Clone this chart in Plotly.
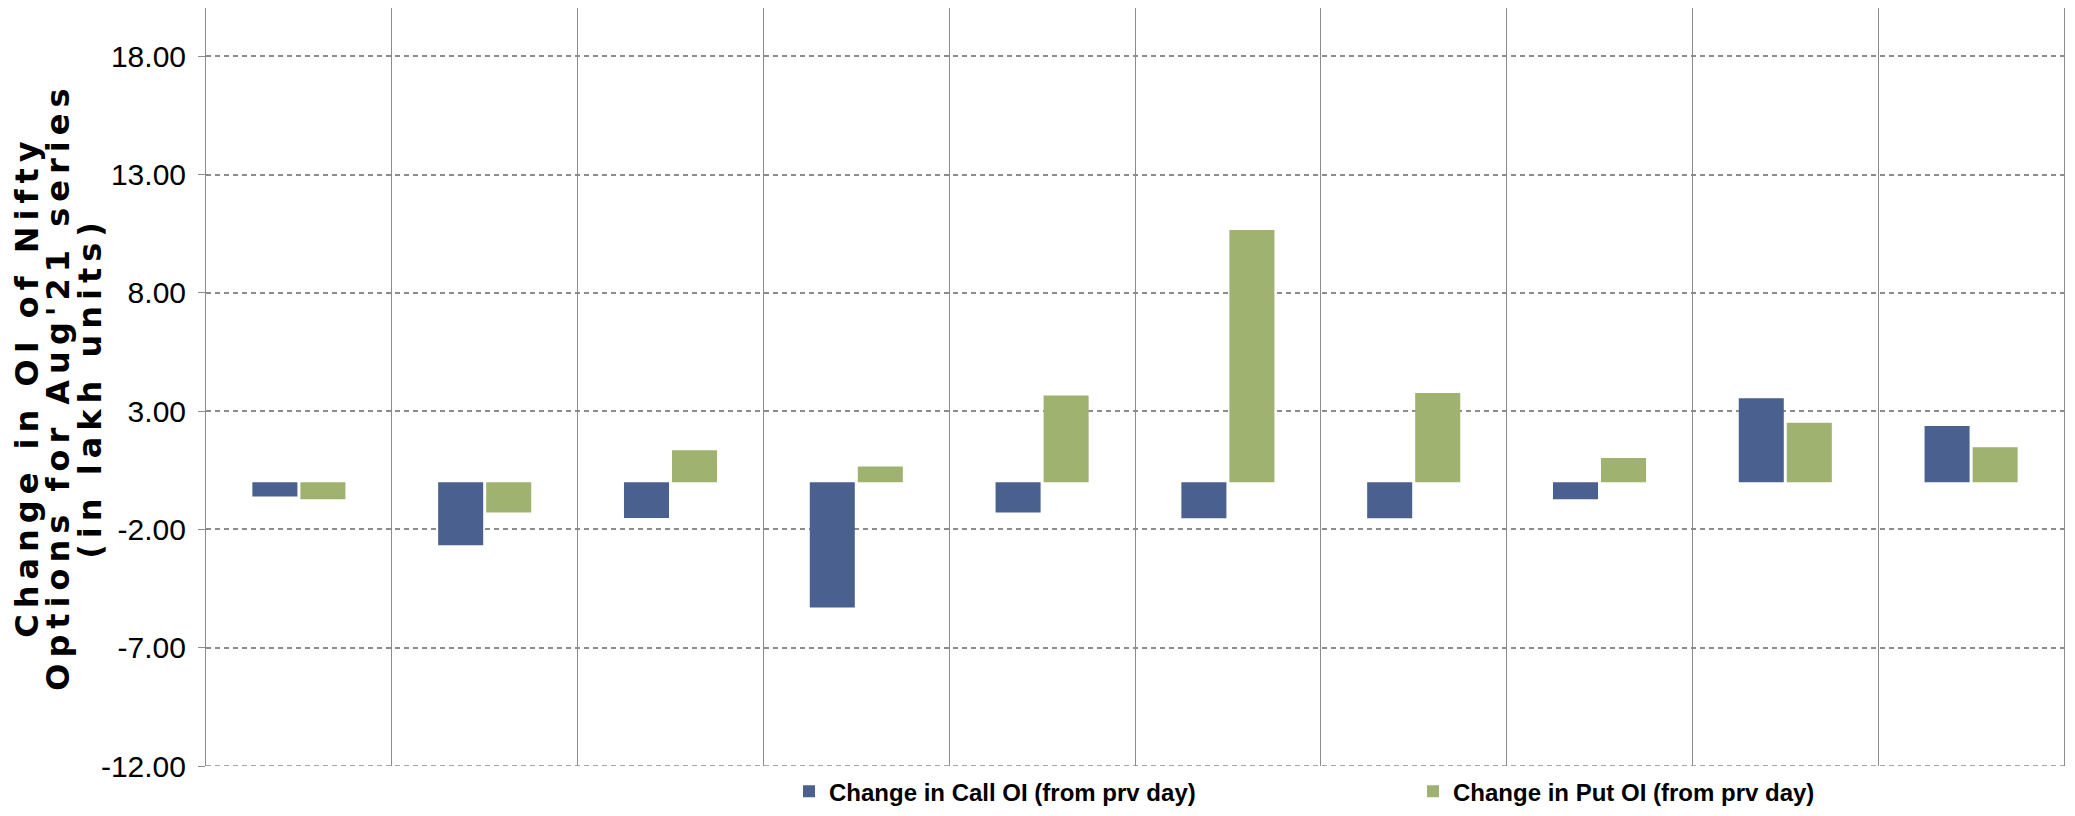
import plotly.graph_objects as go

# Day-wise change in open interest (lakh units)
categories = [1, 2, 3, 4, 5, 6, 7, 8, 9, 10]
call_oi_change = [-0.61, -2.67, -1.51, -5.30, -1.28, -1.52, -1.52, -0.72, 3.55, 2.38]
put_oi_change = [-0.72, -1.28, 1.35, 0.66, 3.67, 10.66, 3.77, 1.02, 2.51, 1.48]
y_ticks = [-12, -7, -2, 3, 8, 13, 18]
y_title_lines = ["Change in OI of Nifty", "Options for Aug'21 series", "(in lakh units)"]
series_names = ["Change in Call OI (from prv day)", "Change in Put OI (from prv day)"]

CALL_COLOR = "#4A6190"
PUT_COLOR = "#9FB270"
GRID = "#8c8c8c"
SANS = "Liberation Sans, Arial, sans-serif"

fig = go.Figure()
fig.add_trace(go.Bar(x=categories, y=call_oi_change, name=series_names[0],
                     marker=dict(color=CALL_COLOR, line=dict(width=0))))
fig.add_trace(go.Bar(x=categories, y=put_oi_change, name=series_names[1],
                     marker=dict(color=PUT_COLOR, line=dict(width=0))))

W, H = 2075, 816
ML, MR, MT, MB = 206, 11, 8, 50
PW, PH = W - ML - MR, H - MT - MB
Y_MIN, Y_MAX = -12, 20.05

fig.update_layout(
    width=W, height=H,
    margin=dict(l=ML, r=MR, t=MT, b=MB, autoexpand=False),
    paper_bgcolor="white", plot_bgcolor="white",
    barmode="group", bargap=0.483, bargroupgap=0.0625,
    showlegend=True,
    legend=dict(orientation="h", x=(789 - ML) / PW, xanchor="left",
                y=-0.034, yanchor="middle",
                font=dict(family=SANS, size=24, color="black", weight="bold"),
                entrywidth=579, entrywidthmode="pixels", bgcolor="rgba(0,0,0,0)"),
)

# category boundaries drawn as solid vertical lines
boundaries = [c + 0.5 for c in [0] + categories]
fig.update_xaxes(
    range=[0.5, 10.5], tickvals=boundaries, showticklabels=False, ticks="",
    showgrid=True, gridcolor=GRID, gridwidth=1, zeroline=False, showline=False,
)
fig.update_yaxes(
    range=[Y_MIN, Y_MAX], tickvals=y_ticks, ticktext=[f"{v:.2f}" for v in y_ticks],
    tickfont=dict(family=SANS, size=30, color="black"),
    ticks="outside", ticklen=7, tickcolor=GRID, tickwidth=1, ticklabelstandoff=6,
    showgrid=True, gridcolor=GRID, gridwidth=1.5, griddash="5px,4px",
    zeroline=False, showline=True, linecolor=GRID, linewidth=1, mirror=True,
)

# dashed gridline along the bottom of the value axis
fig.add_shape(type="line", xref="paper", yref="y", x0=0, x1=1, y0=Y_MIN, y1=Y_MIN,
              line=dict(color=GRID, width=1.5, dash="5px,4px"), layer="below")

# rotated three-line axis title
baselines = [38, 69, 101]
size = 32
for text, base in zip(y_title_lines, baselines):
    fig.add_annotation(
        text=f'<span style="letter-spacing:6px">{text}</span>',
        xref="paper", yref="paper", x=0, y=0.5,
        xanchor="center", yanchor="middle", textangle=-90,
        xshift=(base - 0.35 * size) - ML, showarrow=False,
        font=dict(family="DejaVu Sans, Liberation Sans, sans-serif", size=size,
                  color="black", weight="bold"),
    )

fig.write_html("out.html")
